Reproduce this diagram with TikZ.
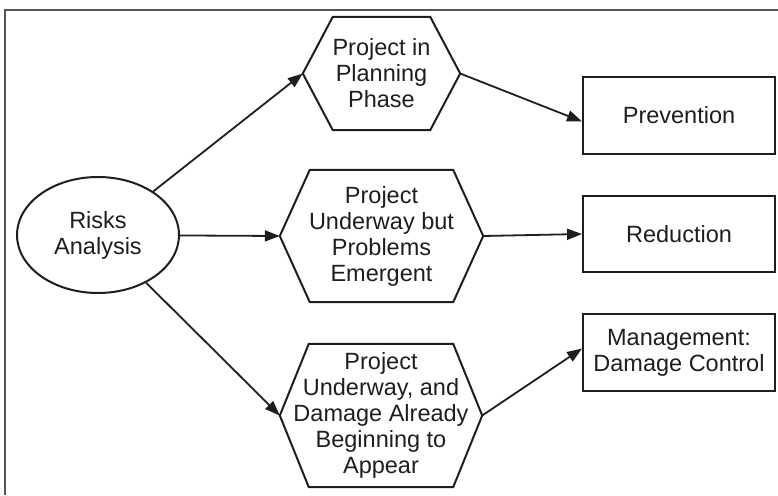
\documentclass[tikz,border=0pt]{standalone}
\usepackage{fontspec}
\setmainfont{Liberation Sans}
\usetikzlibrary{shapes.geometric,arrows.meta}
\definecolor{ink}{HTML}{1E1E1E}
\definecolor{framec}{HTML}{555555}
\tikzset{
  shapeline/.style={draw=ink, line width=2pt, line join=miter},
  txt/.style={text=ink, font=\fontsize{23.5}{26}\selectfont, align=center, inner sep=0pt},
  hexbox/.style={txt},
  rectbox/.style={txt, shapeline, rectangle},
  ovalbox/.style={txt, shapeline, ellipse},
  conn/.style={draw=ink, line width=1.8pt, -{Triangle[length=15pt,width=11pt]}},
}
\newcommand\hexof[2]{%
  \draw[shapeline] (#1.west) -- ([xshift=#2]#1.north west) -- ([xshift=-#2]#1.north east)
    -- (#1.east) -- ([xshift=-#2]#1.south east) -- ([xshift=#2]#1.south west) -- cycle;}
\begin{document}
\begin{tikzpicture}[x=1pt,y=-1pt]
\useasboundingbox (0,0) rectangle (778,495);
% frame (cropped on right and bottom)
\coordinate (fbl) at (5,495);
\coordinate (ftl) at (5,10);
\coordinate (ftr) at (778,10);
\draw[framec, line width=1.3pt] (fbl) -- (ftl) -- (ftr);

\node[ovalbox, minimum width=162pt, minimum height=116pt] (risk) at (98,235) {Risks\\Analysis};

\node[hexbox, minimum width=157pt, minimum height=113pt] (h1) at (381.5,73.5) {Project in\\Planning\\Phase};
\node[hexbox, minimum width=203pt, minimum height=132pt] (h2) at (381.5,236) {Project\\Underway but\\Problems\\Emergent};
\node[hexbox, minimum width=202pt, minimum height=143pt] (h3) at (381,415.5) {Project\\Underway, and\\Damage Already\\Beginning to\\Appear};
\hexof{h1}{30pt}
\hexof{h2}{30pt}
\hexof{h3}{29pt}

\node[rectbox, minimum width=192pt, minimum height=77pt] (prev) at (679,115.5) {Prevention};
\node[rectbox, minimum width=192pt, minimum height=76pt] (red) at (679,234) {Reduction};
\node[rectbox, minimum width=192pt, minimum height=77pt] (mgmt) at (679,352.5) {Management:\\Damage Control};

\draw[conn] (risk) -- (h1.west);
\draw[conn] (risk) -- (h2.west);
\draw[conn] (risk) -- (h3.west);
\draw[conn] (h1.east) -- ([yshift=-6pt]prev.west);
\draw[conn] (h2.east) -- (red.west);
\draw[conn] (h3.east) -- ([yshift=4pt]mgmt.west);
\end{tikzpicture}
\end{document}
